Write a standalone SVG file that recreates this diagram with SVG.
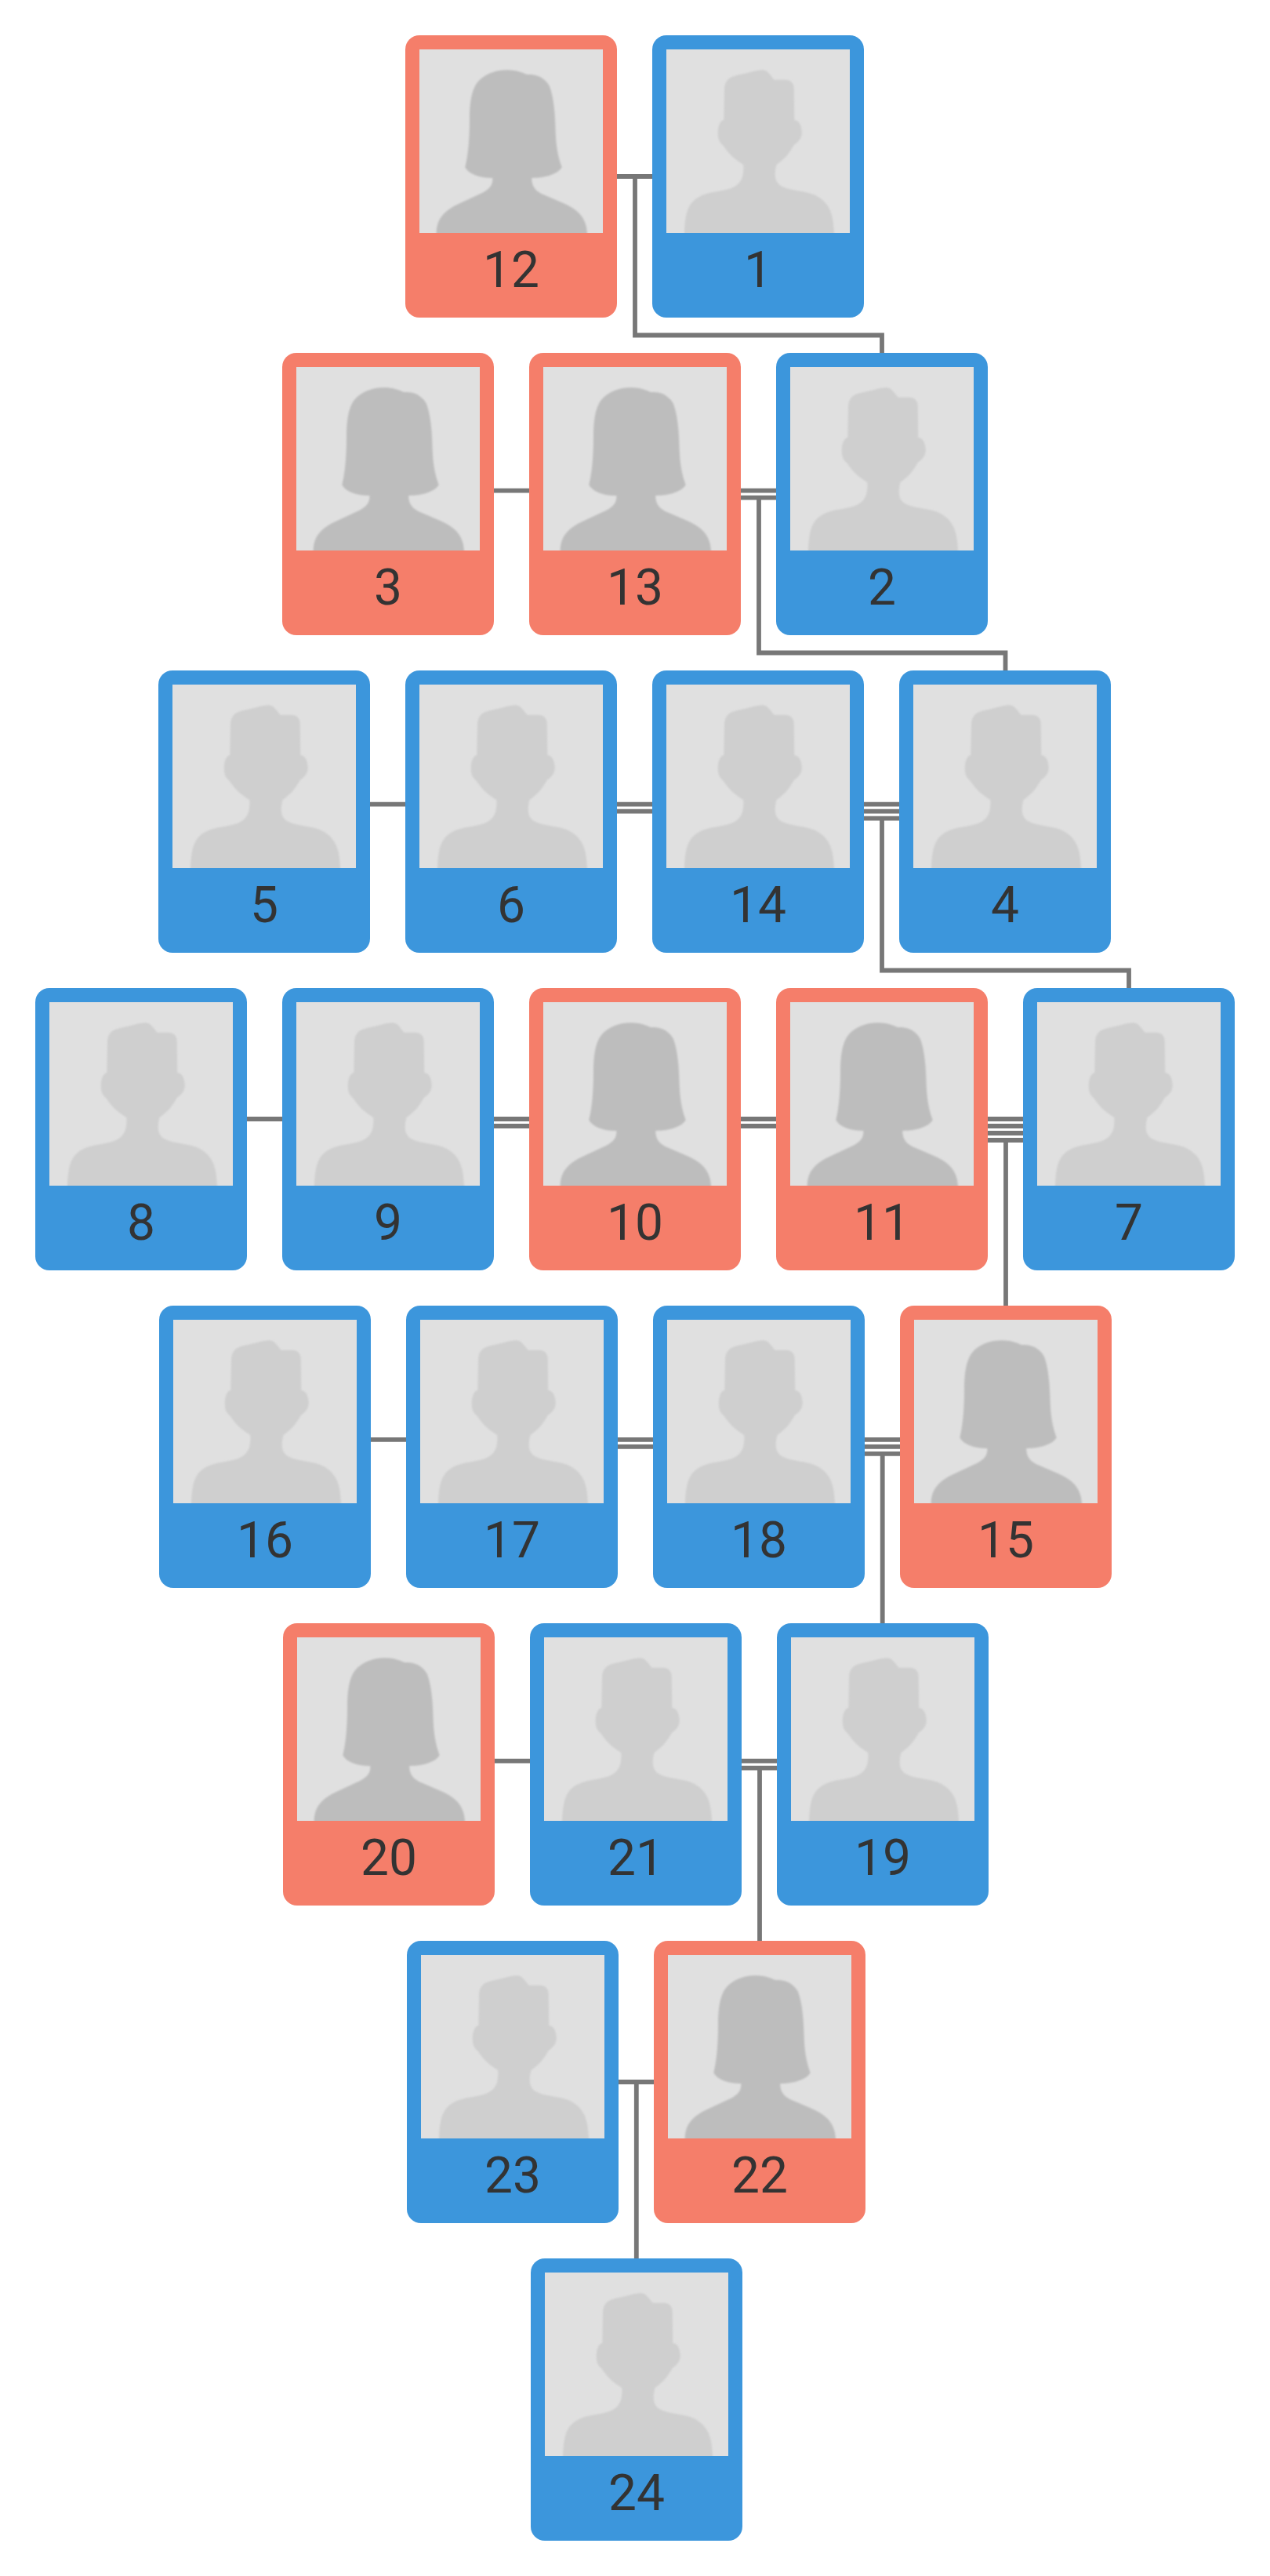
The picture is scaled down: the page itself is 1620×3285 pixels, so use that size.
<svg xmlns="http://www.w3.org/2000/svg" width="1620" height="3285" viewBox="0 0 1620 3285">
<style>
.m rect.c{fill:#3c96dc}
.f rect.c{fill:#f57e6a}
rect.p{fill:#e0e0e0}
text{font-family:Roboto,"Liberation Sans",sans-serif;font-size:64px;fill:#333;text-anchor:middle}
#connectors path{fill:none;stroke:#777;stroke-width:5.8}
</style>
<defs>
<filter id="soft" filterUnits="userSpaceOnUse" x="0" y="0" width="234" height="260"><feGaussianBlur stdDeviation="0.9"/></filter>
<clipPath id="pic"><rect width="234" height="234"/></clipPath>
<g id="male" clip-path="url(#pic)"><path filter="url(#soft)" fill="#cfcfcf" d="M123.3 26.3C130 27 133 34 137.5 38.7L152 38.7C159 39 162.5 43 162.7 50L163.3 90.3C168 90 172 95 172.7 105C173 112 170 117 163 121.5C157 132 152 139 140.5 147C137 160 138 170 148 175C160 181 180 180 192 187C207 196 213 207 214 234V250H23V234C24 210 27 197 40 189C55 180 72 182 85 176C97 170 99 160 98.3 147C85 139 80 133 72 122C67 118 65 112 66 102C67 95 70 90 73.3 90L74 52C74 40 80 35 90 33C102 31 115 26 123.3 26.3Z"/></g>
<g id="female" clip-path="url(#pic)"><path filter="url(#soft)" fill="#bdbdbd" d="M111.7 26.3C122 26 130 29 137 32C150 31 160 36 166 47C171 60 173 80 173.5 100C174 120 176 135 181.7 150.3C178 157 165 164 143.3 164C143 172 146 179 155 183.7L181.7 195.3C200 203 213 213 214 234V250H21.7V234C22 215 33 205 50 197L80 183C90 178 94 172 93.3 164C75 164 62 158 58.3 150.3C62 135 64 115 64 88C64 70 66 52 74 42C82 32 97 26 111.7 26.3Z"/></g>
</defs>
<rect width="1620" height="3285" fill="#fff"/>
<g id="connectors">
<path d="M787 225H832M810 225V427.5H1125V450"/>
<path d="M630 625.7H675"/>
<path d="M945 625.7H990M945 634.7H990M968 637V832.5H1282.5V855"/>
<path d="M472 1025.7H517"/>
<path d="M787 1025.7H832M787 1034.7H832"/>
<path d="M1102 1025.7H1147M1102 1034.7H1147M1102 1043.7H1147M1125 1046V1237.5H1440V1260"/>
<path d="M315 1427H360"/>
<path d="M630 1427H675M630 1436H675"/>
<path d="M945 1427H990M945 1436H990"/>
<path d="M1260 1427H1305M1260 1436H1305M1260 1445H1305M1260 1454H1305M1283 1456V1665"/>
<path d="M473 1835.8H518"/>
<path d="M788 1835.8H833M788 1844.8H833"/>
<path d="M1103 1835.8H1148M1103 1844.8H1148M1103 1853.8H1148M1125.7 1856V2070"/>
<path d="M631 2245.7H676"/>
<path d="M946 2245.7H991M946 2254.7H991M969 2257V2475"/>
<path d="M789 2655H834M811.8 2657V2880"/>
</g>
<g id="n12" class="f" transform="translate(517 45)"><rect class="c" width="270" height="360" rx="18"/><g transform="translate(18 18)"><rect class="p" width="234" height="234"/><use href="#female"/></g><text x="135" y="321">12</text></g>
<g id="n1" class="m" transform="translate(832 45)"><rect class="c" width="270" height="360" rx="18"/><g transform="translate(18 18)"><rect class="p" width="234" height="234"/><use href="#male"/></g><text x="135" y="321">1</text></g>
<g id="n3" class="f" transform="translate(360 450)"><rect class="c" width="270" height="360" rx="18"/><g transform="translate(18 18)"><rect class="p" width="234" height="234"/><use href="#female"/></g><text x="135" y="321">3</text></g>
<g id="n13" class="f" transform="translate(675 450)"><rect class="c" width="270" height="360" rx="18"/><g transform="translate(18 18)"><rect class="p" width="234" height="234"/><use href="#female"/></g><text x="135" y="321">13</text></g>
<g id="n2" class="m" transform="translate(990 450)"><rect class="c" width="270" height="360" rx="18"/><g transform="translate(18 18)"><rect class="p" width="234" height="234"/><use href="#male"/></g><text x="135" y="321">2</text></g>
<g id="n5" class="m" transform="translate(202 855)"><rect class="c" width="270" height="360" rx="18"/><g transform="translate(18 18)"><rect class="p" width="234" height="234"/><use href="#male"/></g><text x="135" y="321">5</text></g>
<g id="n6" class="m" transform="translate(517 855)"><rect class="c" width="270" height="360" rx="18"/><g transform="translate(18 18)"><rect class="p" width="234" height="234"/><use href="#male"/></g><text x="135" y="321">6</text></g>
<g id="n14" class="m" transform="translate(832 855)"><rect class="c" width="270" height="360" rx="18"/><g transform="translate(18 18)"><rect class="p" width="234" height="234"/><use href="#male"/></g><text x="135" y="321">14</text></g>
<g id="n4" class="m" transform="translate(1147 855)"><rect class="c" width="270" height="360" rx="18"/><g transform="translate(18 18)"><rect class="p" width="234" height="234"/><use href="#male"/></g><text x="135" y="321">4</text></g>
<g id="n8" class="m" transform="translate(45 1260)"><rect class="c" width="270" height="360" rx="18"/><g transform="translate(18 18)"><rect class="p" width="234" height="234"/><use href="#male"/></g><text x="135" y="321">8</text></g>
<g id="n9" class="m" transform="translate(360 1260)"><rect class="c" width="270" height="360" rx="18"/><g transform="translate(18 18)"><rect class="p" width="234" height="234"/><use href="#male"/></g><text x="135" y="321">9</text></g>
<g id="n10" class="f" transform="translate(675 1260)"><rect class="c" width="270" height="360" rx="18"/><g transform="translate(18 18)"><rect class="p" width="234" height="234"/><use href="#female"/></g><text x="135" y="321">10</text></g>
<g id="n11" class="f" transform="translate(990 1260)"><rect class="c" width="270" height="360" rx="18"/><g transform="translate(18 18)"><rect class="p" width="234" height="234"/><use href="#female"/></g><text x="135" y="321">11</text></g>
<g id="n7" class="m" transform="translate(1305 1260)"><rect class="c" width="270" height="360" rx="18"/><g transform="translate(18 18)"><rect class="p" width="234" height="234"/><use href="#male"/></g><text x="135" y="321">7</text></g>
<g id="n16" class="m" transform="translate(203 1665)"><rect class="c" width="270" height="360" rx="18"/><g transform="translate(18 18)"><rect class="p" width="234" height="234"/><use href="#male"/></g><text x="135" y="321">16</text></g>
<g id="n17" class="m" transform="translate(518 1665)"><rect class="c" width="270" height="360" rx="18"/><g transform="translate(18 18)"><rect class="p" width="234" height="234"/><use href="#male"/></g><text x="135" y="321">17</text></g>
<g id="n18" class="m" transform="translate(833 1665)"><rect class="c" width="270" height="360" rx="18"/><g transform="translate(18 18)"><rect class="p" width="234" height="234"/><use href="#male"/></g><text x="135" y="321">18</text></g>
<g id="n15" class="f" transform="translate(1148 1665)"><rect class="c" width="270" height="360" rx="18"/><g transform="translate(18 18)"><rect class="p" width="234" height="234"/><use href="#female"/></g><text x="135" y="321">15</text></g>
<g id="n20" class="f" transform="translate(361 2070)"><rect class="c" width="270" height="360" rx="18"/><g transform="translate(18 18)"><rect class="p" width="234" height="234"/><use href="#female"/></g><text x="135" y="321">20</text></g>
<g id="n21" class="m" transform="translate(676 2070)"><rect class="c" width="270" height="360" rx="18"/><g transform="translate(18 18)"><rect class="p" width="234" height="234"/><use href="#male"/></g><text x="135" y="321">21</text></g>
<g id="n19" class="m" transform="translate(991 2070)"><rect class="c" width="270" height="360" rx="18"/><g transform="translate(18 18)"><rect class="p" width="234" height="234"/><use href="#male"/></g><text x="135" y="321">19</text></g>
<g id="n23" class="m" transform="translate(519 2475)"><rect class="c" width="270" height="360" rx="18"/><g transform="translate(18 18)"><rect class="p" width="234" height="234"/><use href="#male"/></g><text x="135" y="321">23</text></g>
<g id="n22" class="f" transform="translate(834 2475)"><rect class="c" width="270" height="360" rx="18"/><g transform="translate(18 18)"><rect class="p" width="234" height="234"/><use href="#female"/></g><text x="135" y="321">22</text></g>
<g id="n24" class="m" transform="translate(677 2880)"><rect class="c" width="270" height="360" rx="18"/><g transform="translate(18 18)"><rect class="p" width="234" height="234"/><use href="#male"/></g><text x="135" y="321">24</text></g>
</svg>
